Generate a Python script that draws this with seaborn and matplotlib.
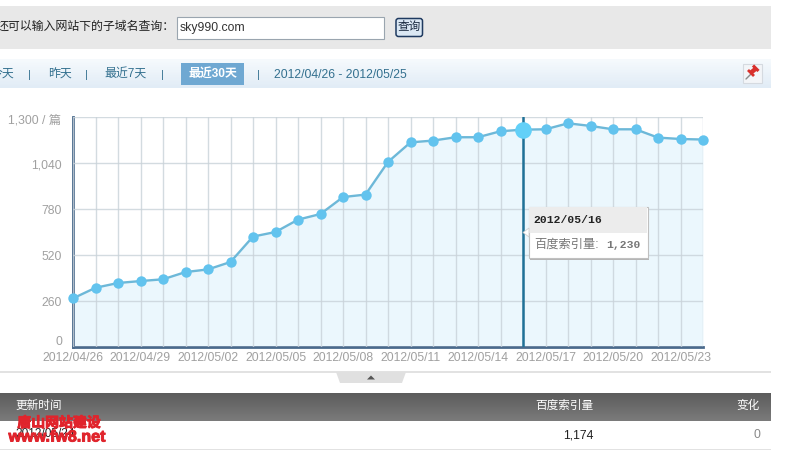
import numpy as np
import pandas as pd
import matplotlib
matplotlib.use("Agg")
import matplotlib.pyplot as plt
from matplotlib.patches import Rectangle, Polygon, FancyBboxPatch
import matplotlib.patheffects as pe
import seaborn as sns

# 百度索引量 每日数据
dates = ["04/26", "04/27", "04/28", "04/29", "04/30", "05/01", "05/02", "05/03", "05/04", "05/05",
         "05/06", "05/07", "05/08", "05/09", "05/10", "05/11", "05/12", "05/13", "05/14", "05/15",
         "05/16", "05/17", "05/18", "05/19", "05/20", "05/21", "05/22", "05/23", "05/24"]
values = [274, 334, 361, 372, 382, 423, 438, 480, 624, 650,
          720, 752, 848, 862, 1047, 1158, 1168, 1187, 1187, 1221,
          1230, 1232, 1266, 1251, 1232, 1232, 1185, 1177, 1174]
y_ticks = [0, 260, 520, 780, 1040]
y_labels = ["0", "260", "520", "780", "1,040"]
highlight = "05/16"

W, H = 786, 453
sns.set_theme(style="white")
plt.rcParams['font.family'] = ['Liberation Sans', 'Noto Sans CJK SC', 'DejaVu Sans']

df = pd.DataFrame({"day": range(len(dates)), "date": dates, "value": values})

fig = plt.figure(figsize=(W / 100, H / 100), dpi=100, facecolor="white")

# 页面部分用像素坐标画
page = fig.add_axes([0, 0, 1, 1], zorder=0)
page.set_xlim(0, W)
page.set_ylim(H, 0)
page.axis("off")


def gradient(x0, x1, y0, y1, top, bottom):
    cmap = matplotlib.colors.LinearSegmentedColormap.from_list("g", [top, bottom])
    page.imshow(np.linspace(0, 1, 32).reshape(-1, 1), extent=(x0, x1, y1, y0), cmap=cmap, aspect="auto", zorder=1)


page.add_patch(Rectangle((0, 6), 771, 43, color="#e8e8e8", lw=0))
page.text(-3, 26.5, "还可以输入网站下的子域名查询：", fontsize=8.6, color="#222222", va="center")
page.add_patch(Rectangle((176.5, 16.5), 207, 22, fc="white", ec="#9aa5af", lw=0.8))
page.text(180, 27.5, "sky990.com", fontsize=8.8, color="#333333", va="center")
page.add_patch(FancyBboxPatch((397, 19.5), 24.5, 16, boxstyle="round,pad=1,rounding_size=2.5",
                              fc="#dbe8f4", ec="#1f3a60", lw=1.1))
page.text(409, 27, "查询", fontsize=8.4, color="#1a2a40", va="center", ha="center")

gradient(0, 771, 59, 88, "#f6fafd", "#e1ecf6")
nav_color = "#33708f"
for x, s in [(2, "今天"), (60, "昨天"), (126, "最近7天")]:
    page.text(x, 74.5, s, fontsize=8.6, color=nav_color, va="center", ha="center")
for x in [29, 86, 162, 258]:
    page.text(x, 74.5, "|", fontsize=8, color=nav_color, va="center", ha="center")
page.add_patch(Rectangle((181, 63), 63, 22, color="#6fa8d2", lw=0, zorder=2))
page.text(212.5, 74, "最近30天", fontsize=8.6, color="white", weight="bold", va="center", ha="center", zorder=3)
page.text(274, 74.5, "2012/04/26 - 2012/05/25", fontsize=8.8, color=nav_color, va="center")

# 图钉按钮
page.add_patch(Rectangle((742.5, 63.5), 19, 19, fc="#f3f5f8", ec="#d5dae0", lw=0.8, zorder=2))
page.plot([746, 751], [79, 74], color="#8a8a8a", lw=1, zorder=3)
page.plot([750.5, 756], [73, 68.5], color="#d8302c", lw=3.2, solid_capstyle="butt", zorder=3)
page.plot([753, 758.5], [65.5, 71], color="#d8302c", lw=2.2, solid_capstyle="butt", zorder=3)
page.plot([748, 754], [70, 76], color="#d8302c", lw=2, solid_capstyle="butt", zorder=3)

# 折线图下面的分隔线和表格
page.add_patch(Rectangle((0, 371), 771, 2, color="#e2e2e2", lw=0))
page.add_patch(Polygon([(336, 372), (406, 372), (402, 383), (340, 383)], color="#e0e0e0", lw=0))
page.add_patch(Polygon([(367, 379.5), (375, 379.5), (371, 375.5)], color="#555555", lw=0))
gradient(0, 771, 393, 421, "#5c5c5c", "#7b7b7b")
page.text(15, 406, "更新时间", fontsize=8.4, color="white", va="center")
page.text(593, 406, "百度索引量", fontsize=8.4, color="white", va="center", ha="right")
page.text(760, 406, "变化", fontsize=8.4, color="white", va="center", ha="right")
page.text(15, 434, "2012/05/24", fontsize=8.6, color="#222222", va="center")
page.text(593, 435, "1,174", fontsize=8.8, color="#222222", va="center", ha="right")
page.text(760, 435, "0", fontsize=8.8, color="#888888", va="center", ha="right")
page.add_patch(Rectangle((0, 449), 771, 1, color="#e2e2e2", lw=0))
# 水印，字体本身不够粗，加一层描边
heavy = [pe.withStroke(linewidth=0.7, foreground="#e0242c")]
page.text(59, 423, "唐山网站建设", fontsize=10, color="#e0242c", weight="bold", va="center", ha="center",
          path_effects=heavy, zorder=5)
page.text(57, 437, "www.fw8.net", fontsize=11.6, color="#e0242c", weight="bold", va="center", ha="center",
          path_effects=heavy, zorder=5)
page.set_xlim(0, W)
page.set_ylim(H, 0)

# 折线图
ax = fig.add_axes([73 / W, 1 - 346.7 / H, 630 / W, 229.4 / H], zorder=1)
ax.patch.set_alpha(0)
ax.fill_between(df["day"], df["value"], color="#ebf7fd", lw=0, zorder=1)
sns.lineplot(data=df, x="day", y="value", ax=ax, color="#6db8d8", lw=1.7, zorder=3,
             marker="o", markersize=7.5, markerfacecolor="#62c3ee", markeredgewidth=0, clip_on=False)

ax.set_xlim(0, len(dates) - 1)
ax.set_ylim(0, 1300)
ax.set_xticks(df["day"])
ax.set_yticks(y_ticks + [1300])
ax.grid(True, color="#c9d2d9", lw=1, alpha=0.8, zorder=2)
ax.set_axisbelow(False)
for line in ax.get_xgridlines() + ax.get_ygridlines():
    line.set_zorder(2)
ax.set_xlabel("")
ax.set_ylabel("")
ax.tick_params(length=0, labelbottom=False, labelleft=False)
sns.despine(ax=ax, top=True, right=True)
for side in ["left", "bottom"]:
    ax.spines[side].set_color("#4a6a8c")
    ax.spines[side].set_linewidth(2.0)
    ax.spines[side].set_zorder(2.5)

tick_color = "#a0a0a0"
for v, s in zip(y_ticks, y_labels):
    ax.annotate(s, (0, v), xytext=(-11, 5 if v == 0 else -2), textcoords="offset pixels", ha="right", va="center",
                fontsize=8.8, color=tick_color)
ax.annotate("1,300 / 篇", (0, 1300), xytext=(-12, -3), textcoords="offset pixels", ha="right", va="center",
            fontsize=8.8, color=tick_color)
for day in df["day"][::3]:
    ax.annotate("2012/" + dates[day], (day, 0), xytext=(0, -11), textcoords="offset pixels", ha="center",
                va="center", fontsize=8.8, color=tick_color, annotation_clip=False)

# 当前高亮的日期
hi = df[df["date"] == highlight].iloc[0]
ax.axvline(hi["day"], color="#1f7197", lw=1.8, zorder=4)
ax.plot(hi["day"], hi["value"], "o", ms=12, color="#62d0f8", mew=0, zorder=5)

# 提示框
page2 = fig.add_axes([0, 0, 1, 1], zorder=2)
page2.set_xlim(0, W)
page2.set_ylim(H, 0)
page2.axis("off")
page2.add_patch(Rectangle((530, 208), 119, 51.5, color="#b5b5b5", lw=0))
page2.add_patch(Rectangle((528.5, 206.5), 119, 51.5, fc="white", ec="#c0c0c0", lw=0.8))
page2.add_patch(Rectangle((529, 207), 118, 26, color="#ececec", lw=0))
page2.add_patch(Polygon([(529, 228), (523, 232.5), (529, 237)], fc="white", ec="#d0d0d0", lw=0.6))
page2.text(533, 220, "2012/" + highlight, fontsize=8.2, family="Liberation Mono", weight="bold",
           color="#222222", va="center")
page2.text(534, 245, "百度索引量:", fontsize=8.8, color="#777777", va="center")
page2.text(640.5, 245, "1,230", fontsize=8.2, family="Liberation Mono", weight="bold", color="#777777",
           va="center", ha="right")

fig.savefig("out.png", dpi=100)
plt.close(fig)
